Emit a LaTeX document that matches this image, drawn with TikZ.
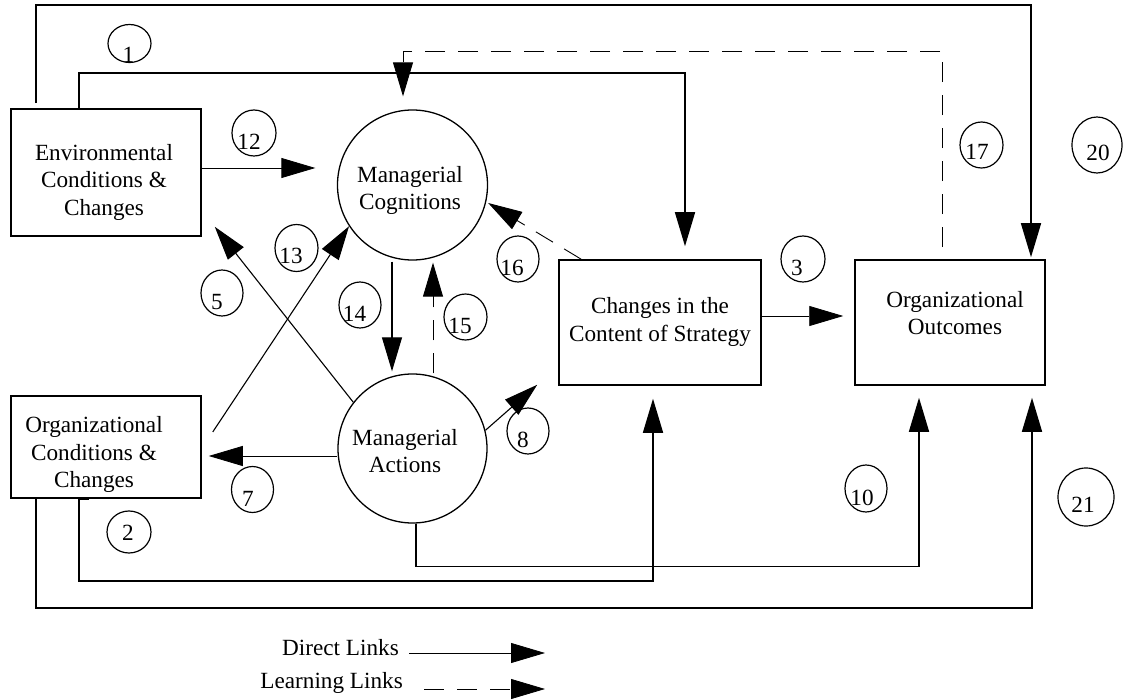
\documentclass[tikz,border=0pt]{standalone}
\usepackage{fontspec}
\setmainfont{Liberation Serif}
\usetikzlibrary{arrows.meta,shapes.geometric}
\newcommand\numcirc[8]{%
  \node[numc,minimum width=#4pt,minimum height=#5pt] (#1) at (#2,#3) {};
  \node[numt] (#1t) at (#6,#7) {#8};}
\begin{document}
\begin{tikzpicture}[x=1pt,y=-1pt,
  every node/.style={font=\fontsize{23.2pt}{27.5pt}\selectfont},
  box/.style={draw,line width=1.5pt,inner sep=0pt},
  bigc/.style={draw,circle,line width=1.3pt,inner sep=0pt},
  lbl/.style={align=center,inner sep=0pt},
  numc/.style={draw,ellipse,line width=1.2pt,inner sep=0pt},
  numt/.style={inner sep=0pt},
  tip/.style={-{Triangle[length=34pt,width=20pt]}},
  conn/.style={tip,line width=1.5pt},
  mid/.style={tip,line width=1.1pt},
  thinl/.style={tip,line width=0.8pt},
  learn/.style={tip,line width=0.9pt,dash pattern=on 20pt off 13pt}]
\useasboundingbox (0,0) rectangle (1127,700);

% main nodes
\node[box,minimum width=190pt,minimum height=127pt] (env) at (106,172.5) {};
\node[lbl] (envt) at (104,182) {Environmental\\Conditions \&\\Changes};
\node[box,minimum width=190pt,minimum height=102pt] (org) at (106,447) {};
\node[lbl] (orgt) at (94,454.5) {Organizational\\Conditions \&\\Changes};
\node[box,minimum width=202pt,minimum height=125pt] (strat) at (660,322.5) {};
\node[lbl] (stratt) at (660,322) {Changes in the\\Content of Strategy};
\node[box,minimum width=190pt,minimum height=125pt] (out) at (950,322.5) {};
\node[lbl] (outt) at (955,313) {Organizational\\Outcomes};
\node[bigc,minimum size=150pt] (cog) at (412.5,185) {};
\node[lbl] (cogt) at (410,190.5) {Managerial\\Cognitions};
\node[bigc,minimum size=149pt] (act) at (412.5,448.5) {};
\node[lbl] (actt) at (405,451.3) {Managerial\\Actions};

% numbered circles
\numcirc{n1}{129.5}{43.5}{43}{38}{128.5}{54.5}{1}
\numcirc{n12}{254}{133}{44}{46}{249}{142}{12}
\numcirc{n13}{296.5}{248}{43}{47}{291}{256}{13}
\numcirc{n5}{222}{293}{42}{46}{217}{302.5}{5}
\numcirc{n14}{360}{305}{42}{46}{354.5}{314}{14}
\numcirc{n15}{465.5}{317}{43}{46}{460}{326}{15}
\numcirc{n16}{518}{259}{42}{46}{512}{268}{16}
\numcirc{n3}{803}{259}{44}{46}{797}{268}{3}
\numcirc{n8}{528}{431}{42}{46}{523}{440}{8}
\numcirc{n17}{981.5}{145}{43}{46}{977}{152}{17}
\numcirc{n20}{1097}{145}{50}{56}{1098}{153}{20}
\numcirc{n7}{252.5}{489.5}{42}{46}{248}{499}{7}
\numcirc{n2}{129}{532}{44}{42}{128}{533}{2}
\numcirc{n10}{866}{488.5}{42}{47}{862}{498}{10}
\numcirc{n21}{1086}{497}{56}{58}{1083}{505}{21}

% connectors: direct links
\draw[conn] ([xshift=-70pt,yshift=5pt]env.north) -- ++(0,-98)
   -| ([xshift=81pt,yshift=2pt]out.north);
\draw[conn] ([xshift=-27pt]env.north) -- ++(0,-35)
   -| ([xshift=25pt,yshift=13pt]strat.north);
\draw[thinl] ([yshift=4.5pt]env.east) -- ([xshift=-21.5pt,yshift=17pt]cog.west);
\draw[thinl] ([yshift=6.5pt]strat.east) -- ([xshift=-11pt,yshift=6.5pt]out.west);
\draw[mid] (act.142) -- ([xshift=13pt,yshift=10pt]env.south east);
\draw[mid] ([xshift=11pt,yshift=15pt]org.east) -- (cog.213);
\draw[mid] ([xshift=-20.5pt,yshift=-1pt]cog.south) -- ([xshift=-20.5pt,yshift=2pt]act.north);
\draw[thinl] ([yshift=-7.5pt]act.west) -- ([xshift=7pt,yshift=-9pt]org.east);
\draw[mid] (act.14) -- ([xshift=-21pt,yshift=1pt]strat.south west);
\draw[conn] ([xshift=3.5pt]act.south) -- ++(0,43)
   -| ([xshift=-31pt,yshift=-12pt]out.south);
\draw[conn] ([xshift=-27pt]org.south) -- ++(0,82)
   -| ([xshift=-7pt,yshift=-13pt]strat.south);
\draw[line width=2.5pt] ([xshift=-27pt]org.south) -- ++(10,0);
\draw[conn] ([xshift=-70pt]org.south) -- ++(0,109)
   -| ([xshift=82pt,yshift=-12pt]out.south);

% connectors: learning links
\draw[learn] ([xshift=-8pt,yshift=12pt]out.north) -- ++(0,-196)
   -| ([xshift=-9.5pt,yshift=13pt]cog.north);
\draw[learn] ([xshift=23pt]strat.north west) -- ([yshift=-18pt]cog.east);
\draw[learn] ([xshift=20.5pt]act.north) -- ([xshift=20.5pt,yshift=-2pt]cog.south);

% legend
\node[anchor=base east,inner sep=0pt] (dl) at (399,655) {Direct Links};
\node[anchor=base east,inner sep=0pt] (ll) at (403,688) {Learning Links};
\draw[thinl] ([xshift=10pt,yshift=2pt]dl.base east) -- ++(136,0);
\draw[learn,line width=0.8pt] ([xshift=21pt,yshift=-1pt]ll.base east) -- ++(121,0);
\end{tikzpicture}
\end{document}
